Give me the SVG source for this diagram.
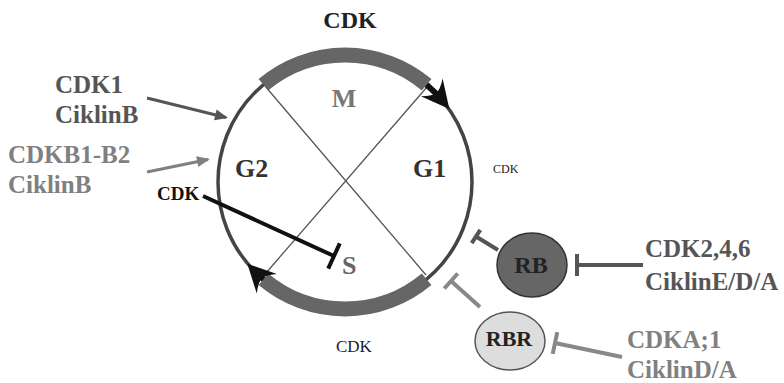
<svg xmlns="http://www.w3.org/2000/svg" width="784" height="383" viewBox="0 0 784 383">
<defs>
<style>
text{font-family:"Liberation Serif","Times New Roman",serif;font-weight:bold}
.reg{font-weight:normal}
.dk{fill:#555}
.lt{fill:#808080}
.blk{fill:#222}
.ph{fill:#333}
.inhD{stroke:#555;stroke-width:4;fill:none}
.inhL{stroke:#888;stroke-width:4;fill:none}
.band{stroke:#666;stroke-width:15;fill:none}
.diag{stroke:#555;stroke-width:1.3}
</style>
<marker id="ah" markerUnits="userSpaceOnUse" viewBox="-24 -16 36 32" markerWidth="36" markerHeight="32" refX="0" refY="0" orient="auto" overflow="visible">
<path d="M9,0 L-19,-14 Q-11,-4 -12,0 Q-11,4 -19,14 Z" fill="#111"/>
</marker>
<marker id="sa1" markerUnits="userSpaceOnUse" viewBox="-12 -6 14 12" markerWidth="14" markerHeight="12" refX="0" refY="0" orient="auto" overflow="visible">
<path d="M2,0 L-11,-5.5 L-11,5.5 Z" fill="#555"/>
</marker>
<marker id="sa2" markerUnits="userSpaceOnUse" viewBox="-12 -6 14 12" markerWidth="14" markerHeight="12" refX="0" refY="0" orient="auto" overflow="visible">
<path d="M2,0 L-11,-5.5 L-11,5.5 Z" fill="#808080"/>
</marker>
</defs>
<rect width="784" height="383" fill="#fff"/>

<g id="cycle">
<circle cx="345" cy="182" r="127" fill="none" stroke="#444" stroke-width="3.5"/>
<line class="diag" x1="265" y1="86" x2="426" y2="275"/>
<line class="diag" x1="427" y1="87" x2="266" y2="273"/>
<path class="band" d="M263.4,84.7 A127,127 0 0 1 426.6,84.7"/>
<path class="band" d="M426.6,279.3 A127,127 0 0 1 263.4,279.3"/>
<path d="M426.6,84.7 A127,127 0 0 1 443.7,102.1" fill="none" stroke="#111" stroke-width="6" marker-end="url(#ah)"/>
<path d="M263.4,279.3 A127,127 0 0 1 253.6,270.2" fill="none" stroke="#111" stroke-width="6" marker-end="url(#ah)"/>
<text x="344" y="107" font-size="26" text-anchor="middle" fill="#777">M</text>
<text x="235" y="177" font-size="26" class="ph">G2</text>
<text x="413" y="177" font-size="26" class="ph">G1</text>
<text x="342" y="274" font-size="26" fill="#666">S</text>
</g>

<g id="cdk-top"><text x="350" y="28" font-size="24" text-anchor="middle" class="blk">CDK</text></g>
<g id="cdk-g1"><text x="493" y="173" font-size="12" class="reg blk">CDK</text></g>
<g id="cdk-bottom"><text x="336" y="352" font-size="17" class="reg blk">CDK</text></g>
<g id="cdk-s"><text x="157" y="200" font-size="19" fill="#111">CDK</text></g>

<g id="cdk1">
<text x="55" y="93" font-size="25" class="dk">CDK1</text>
<text x="55" y="123" font-size="25" class="dk">CiklinB</text>
</g>
<g id="cdkb1">
<text x="8" y="163" font-size="25" class="lt">CDKB1-B2</text>
<text x="8" y="193" font-size="25" class="lt">CiklinB</text>
</g>

<g id="rb">
<ellipse cx="532" cy="265" rx="35" ry="32" fill="#666" stroke="#333" stroke-width="1.5"/>
<text x="531" y="273" font-size="24" text-anchor="middle" class="blk">RB</text>
</g>
<g id="rbr">
<ellipse cx="510" cy="341" rx="35" ry="29" fill="#ddd" stroke="#555" stroke-width="1.5"/>
<text x="509" y="346" font-size="22" text-anchor="middle" class="blk">RBR</text>
</g>

<g id="cdk246">
<text x="645" y="257" font-size="25" class="dk">CDK2,4,6</text>
<text x="645" y="290" font-size="25" class="dk">CiklinE/D/A</text>
</g>
<g id="cdka1">
<text x="627" y="348" font-size="25" class="lt">CDKA;1</text>
<text x="627" y="378" font-size="25" class="lt">CiklinD/A</text>
</g>

<g id="connectors">
<line x1="147" y1="98" x2="226" y2="117.5" stroke="#555" stroke-width="3" marker-end="url(#sa1)"/>
<line x1="147" y1="172" x2="208" y2="159.5" stroke="#808080" stroke-width="3" marker-end="url(#sa2)"/>
<path d="M203,196 L334,256 M339.8,243.3 L328.2,268.7" stroke="#111" stroke-width="4" fill="none"/>
<path class="inhD" d="M498,250 L476,236.5 M480.3,229.8 L471.7,243.2"/>
<path class="inhL" d="M480,307 L451,281 M457.7,273.5 L444.3,288.5"/>
<path class="inhD" d="M643,265 L577,265 M577,254 L577,276"/>
<path class="inhL" d="M622,357 L555,343 M557.3,332.2 L552.7,353.8"/>
</g>
</svg>
